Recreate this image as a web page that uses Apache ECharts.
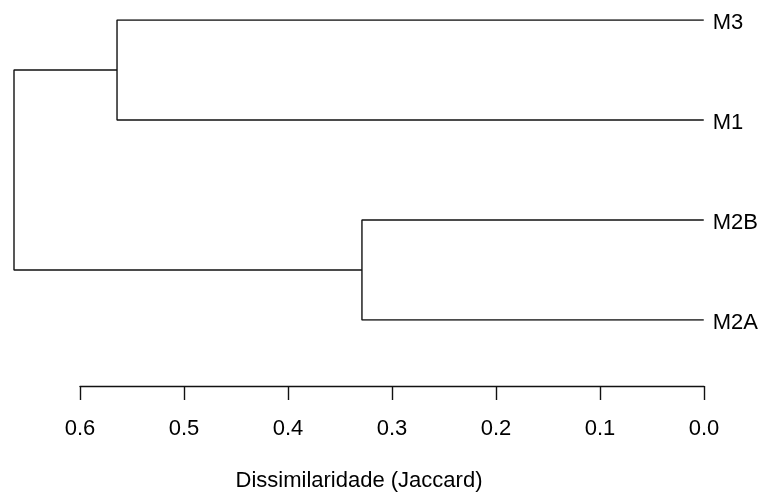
<!DOCTYPE html>
<html>
<head>
<meta charset="utf-8">
<script src="https://cdn.jsdelivr.net/npm/echarts@6/dist/echarts.min.js"></script>
<style>html,body{margin:0;padding:0;background:#fff}#c{width:761px;height:492px}</style>
</head>
<body>
<div id="c"></div>
<script>
// Leaves in plotted order (top to bottom)
const leaves = ['M3', 'M1', 'M2B', 'M2A'];
// Merges (R hclust style): negative = leaf index (1-based), positive = earlier merge (1-based)
const mergeLeft  = [-1, -3, 1];
const mergeRight = [-2, -4, 2];
const mergeHeight = [0.5644, 0.3288, 0.6635];
// Axis ticks
const tickValues = [0.6, 0.5, 0.4, 0.3, 0.2, 0.1, 0.0];
const axisTitle = 'Dissimilaridade (Jaccard)';

const FONT = 'Liberation Sans, Arial, sans-serif';
const rootHeight = mergeHeight[mergeHeight.length - 1];

// compute node positions
const nodePos = [];
function nodeInfo(id) {
  if (id < 0) return { y: -id - 1, h: 0 };
  return nodePos[id - 1];
}
const segSeries = [];
for (let i = 0; i < mergeHeight.length; i++) {
  const a = nodeInfo(mergeLeft[i]);
  const b = nodeInfo(mergeRight[i]);
  const h = mergeHeight[i];
  nodePos.push({ y: (a.y + b.y) / 2, h: h });
  segSeries.push({
    type: 'line',
    xAxisIndex: 0, yAxisIndex: 0,
    data: [[a.h, a.y], [h, a.y], [h, b.y], [b.h, b.y]],
    symbol: 'none',
    silent: true,
    animation: false,
    lineStyle: { color: '#111', width: 1.4 }
  });
}

const chart = echarts.init(document.getElementById('c'), null, { renderer: 'canvas' });
chart.setOption({
  backgroundColor: '#fff',
  animation: false,
  title: {
    text: axisTitle,
    left: 354, top: 465,
    textAlign: 'center',
    textStyle: { fontFamily: FONT, fontSize: 22, fontWeight: 'normal', color: '#000' }
  },
  grid: [
    { left: 14, right: 57, top: 20, height: 300 },
    { left: 80, right: 57, top: 300, height: 86 }
  ],
  xAxis: [
    { type: 'value', gridIndex: 0, min: 0, max: rootHeight, inverse: true, show: false },
    {
      type: 'value', gridIndex: 1, min: 0, max: 0.6, interval: 0.1, inverse: true,
      position: 'bottom',
      axisLine: { show: true, lineStyle: { color: '#111', width: 1.4 } },
      axisTick: { show: true, length: 14, lineStyle: { color: '#111', width: 1.4 } },
      axisLabel: {
        margin: 32, fontFamily: FONT, fontSize: 22, color: '#000',
        formatter: v => tickValues.includes(Math.round(v * 10) / 10) ? v.toFixed(1) : ''
      },
      splitLine: { show: false }
    }
  ],
  yAxis: [
    {
      type: 'value', gridIndex: 0, min: 0, max: leaves.length - 1, interval: 1, inverse: true,
      position: 'right',
      axisLine: { show: false }, axisTick: { show: false }, splitLine: { show: false },
      axisLabel: {
        margin: 9, fontFamily: FONT, fontSize: 22, color: '#000',
        formatter: v => { const n = leaves[Math.round(v)]; return n ? '{a|' + n + '}' : ''; },
        rich: { a: { fontFamily: FONT, fontSize: 22, color: '#000', padding: [6, 0, 0, 0] } }
      }
    },
    { type: 'value', gridIndex: 1, show: false, min: 0, max: 1 }
  ],
  series: segSeries
});
</script>
</body>
</html>
